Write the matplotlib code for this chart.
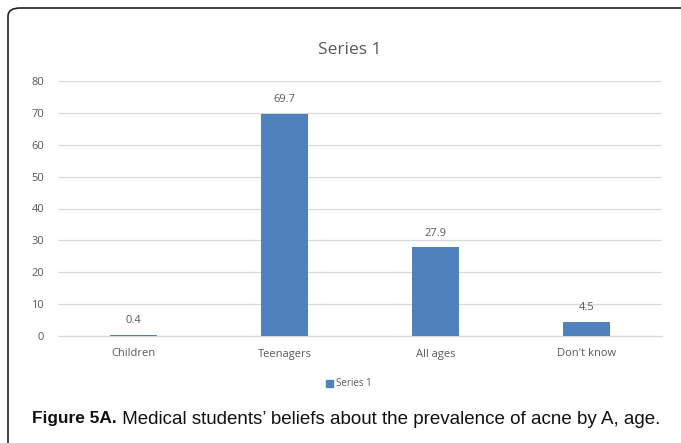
import matplotlib
matplotlib.use("Agg")
import matplotlib.pyplot as plt
from matplotlib.patches import FancyBboxPatch, Rectangle

categories = ["Children", "Teenagers", "All ages", "Don't know"]
values = [0.4, 69.7, 27.9, 4.5]
series_name = "Series 1"
yticks = [0, 10, 20, 30, 40, 50, 60, 70, 80]
caption_bold = "Figure 5A."
caption_rest = " Medical students\u2019 beliefs about the prevalence of acne by A, age."

W, H = 681, 443
fig = plt.figure(figsize=(W / 100, H / 100), dpi=100)
fig.patch.set_facecolor("white")

text_color = "#595959"
bar_color = "#4F81BD"
grid_color = "#D9D9D9"
font = "Open Sans"

# outer frame: only top and left edges with a rounded corner are visible
frame = FancyBboxPatch((8 / W, -40 / H), 720 / W, (H - 8 + 40) / H,
                       boxstyle="round,pad=0,rounding_size=0.018",
                       transform=fig.transFigure, fill=False,
                       edgecolor="#222222", linewidth=1.2, zorder=0)
fig.patches.append(frame)

ax = fig.add_axes([58 / W, (H - 336) / H, (662 - 58) / W, (336 - 81) / H])
x = range(len(categories))
ax.bar(x, values, width=0.315, color=bar_color, zorder=3)
ax.set_xlim(-0.5, len(categories) - 0.5)
ax.set_ylim(0, 80)
ax.set_yticks(yticks)
ax.set_yticklabels([str(t) for t in yticks], fontsize=8, color=text_color, family=font)
ax.set_xticks(list(x))
ax.set_xticklabels(categories, fontsize=8, color=text_color, family=font)
ax.tick_params(axis="both", length=0)
ax.tick_params(axis="y", pad=10)
ax.tick_params(axis="x", pad=9)
ax.grid(axis="y", color=grid_color, linewidth=0.9, zorder=0)
for s in ["top", "right", "left"]:
    ax.spines[s].set_visible(False)
ax.spines["bottom"].set_color(grid_color)
ax.spines["bottom"].set_linewidth(0.9)

for xi, v in zip(x, values):
    ax.annotate(f"{v}", (xi, v), xytext=(0, 10), textcoords="offset points",
                ha="center", va="center", fontsize=8, color=text_color, family=font)

fig.text(350 / W, 1 - 50 / H, series_name, ha="center", va="center",
         fontsize=12.5, color=text_color, family=font)

# legend
fig.patches.append(Rectangle((326 / W, 1 - 387 / H), 7 / W, 7 / H,
                             transform=fig.transFigure, color=bar_color))
fig.text(336 / W, 1 - 383.5 / H, series_name, ha="left", va="center",
         fontsize=7, color=text_color, family=font)

# caption
t1 = fig.text(32 / W, 1 - 419 / H, caption_bold, ha="left", va="center",
              fontsize=12.4, fontweight="bold", color="#111111", family="Liberation Sans")
fig.canvas.draw()
bb = t1.get_window_extent()
fig.text(bb.x1 / W, 1 - 419 / H, caption_rest, ha="left", va="center",
         fontsize=13.5, color="#111111", family="Liberation Sans")

fig.savefig("out.png", dpi=100)
